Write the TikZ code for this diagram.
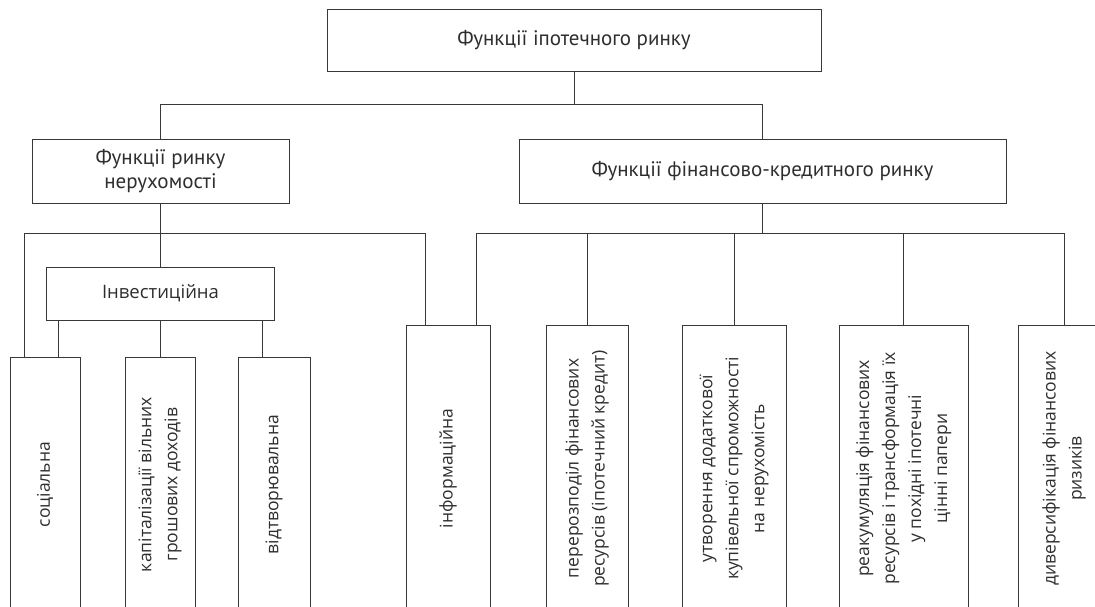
\documentclass[tikz,border=0pt]{standalone}
\usepackage{fontspec}
\setmainfont{Open Sans}
\newfontfamily\topfont{PT Sans}
\begin{document}
\begin{tikzpicture}[x=1pt,y=-1pt,
  box/.style={draw=black!78, line width=0.9pt, rectangle, inner sep=0pt, align=center, text=black!82},
  hbox/.style={box, font=\topfont\fontsize{21}{24}\selectfont},
  vbox/.style={box, rotate=90, font=\fontsize{17.5}{26}\selectfont},
  conn/.style={draw=black!78, line width=0.9pt}]
\useasboundingbox (0,0) rectangle (1095,607);
\clip (0,0) rectangle (1095,607);
% upper level
\node[hbox, minimum width=494pt, minimum height=62pt] (top) at (574,40) {Функції іпотечного ринку};
\node[hbox, minimum width=257pt, minimum height=64pt] (ner) at (160.5,171) {Функції ринку\\нерухомості};
\node[hbox, minimum width=487pt, minimum height=64pt] (fin) at (762.5,171) {Функції фінансово-кредитного ринку};
\node[box, font=\fontsize{18.5}{22}\selectfont, minimum width=228pt, minimum height=53pt] (inv) at (160.5,293.5) {Інвестиційна};
% lower boxes (rotated)
\node[vbox, minimum width=255pt, minimum height=70pt] (soc) at (45,484.5) {соціальна};
\node[vbox, minimum width=255pt, minimum height=70pt] (kap) at (160,484.5) {капіталізації вільних\\грошових доходів};
\node[vbox, minimum width=255pt, minimum height=72pt] (vid) at (274,484.5) {відтворювальна};
\node[vbox, minimum width=287pt, minimum height=84pt] (inf) at (448,468.5) {інформаційна};
\node[vbox, minimum width=287pt, minimum height=82pt] (per) at (587,468.5) {перерозподіл фінансових\\ресурсів (іпотечний кредит)};
\node[vbox, minimum width=287pt, minimum height=104pt] (utv) at (734,468.5) {утворення додаткової\\купівельної спроможності\\на нерухомість};
\node[vbox, minimum width=287pt, minimum height=129pt] (rea) at (903.5,468.5) {реакумуляція фінансових\\ресурсів і трансформація їх\\у похідні іпотечні\\цінні папери};
\node[vbox, minimum width=287pt, minimum height=92pt] (dyv) at (1064,468.5) {диверсифікація фінансових\\ризиків};
% bus levels
\coordinate (busT) at (0,104);
\coordinate (busL) at (0,233);
\coordinate (socL) at ([xshift=-21pt]soc.east);
\coordinate (socI) at ([xshift=13pt]soc.east);
\coordinate (vidI) at ([xshift=-12pt]vid.east);
\coordinate (infL) at ([xshift=-23pt]inf.east);
\coordinate (infR) at ([xshift=28pt]inf.east);
% connectors
\draw[conn] (top.south) -- (top.south |- busT);
\draw[conn] (ner.north) -- (ner.north |- busT) -| (fin.north);
\draw[conn] (ner.south) -- (inv.north);
\draw[conn] (socL) -- (socL |- busL) -| (infL);
\draw[conn] (socI) -- (socI |- inv.south);
\draw[conn] (kap.east) -- (kap.east |- inv.south);
\draw[conn] (vidI) -- (vidI |- inv.south);
\draw[conn] (fin.south) -- (fin.south |- busL);
\draw[conn] (infR) -- (infR |- busL) -| (dyv.east);
\draw[conn] (per.east) -- (per.east |- busL);
\draw[conn] (utv.east) -- (utv.east |- busL);
\draw[conn] (rea.east) -- (rea.east |- busL);
\end{tikzpicture}
\end{document}
